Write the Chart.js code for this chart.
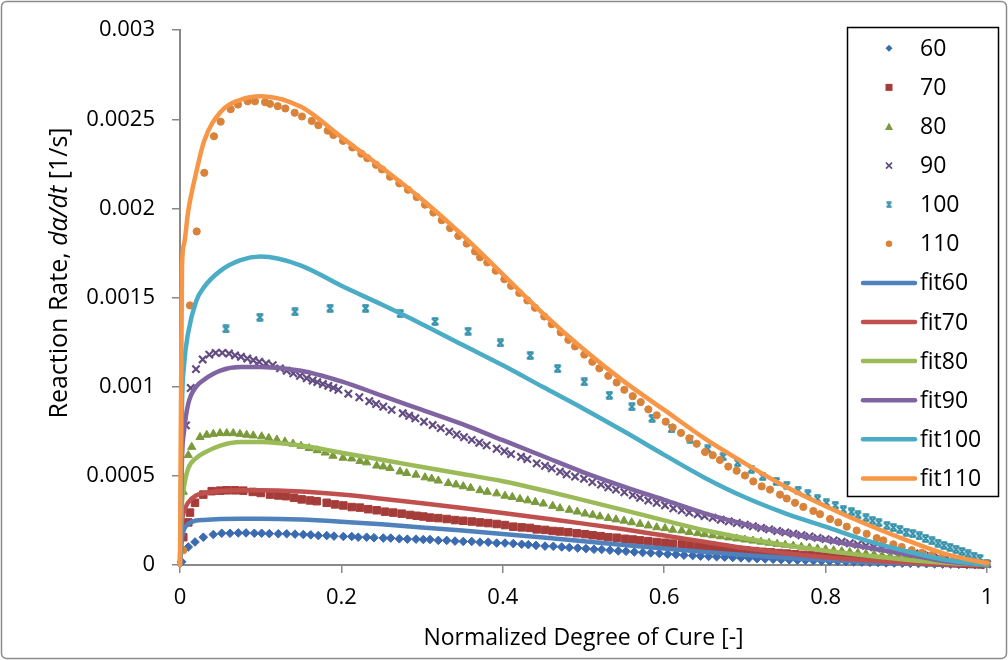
<!DOCTYPE html>
<html><head><meta charset="utf-8">
<script src="https://cdn.jsdelivr.net/npm/chart.js@4.4.1/dist/chart.umd.min.js"></script>
<style>html,body{margin:0;padding:0;background:#fff;}canvas{display:block;}</style>
</head><body>
<canvas id="c" width="1008" height="660"></canvas>
<script>
// ---------- data ----------
const xTicks = [0, 0.2, 0.4, 0.6, 0.8, 1];
const xTickLabels = ['0', '0.2', '0.4', '0.6', '0.8', '1'];
const yTicks = [0, 0.0005, 0.001, 0.0015, 0.002, 0.0025, 0.003];
const yTickLabels = ['0', '0.0005', '0.001', '0.0015', '0.002', '0.0025', '0.003'];
const seriesNames = ['60', '70', '80', '90', '100', '110'];
const fitNames = ['fit60', 'fit70', 'fit80', 'fit90', 'fit100', 'fit110'];

const exp60 = [[0.0021,0.000018],[0.0103,0.000101],[0.0186,0.000129],[0.0289,0.000156],[0.0413,0.000171],[0.0517,0.000178],[0.062,0.000178],[0.0722,0.00018],[0.0818,0.00018],[0.0921,0.000178],[0.1012,0.000178],[0.1107,0.000176],[0.1218,0.000175],[0.1322,0.000175],[0.1425,0.000173],[0.1528,0.000171],[0.162,0.000169],[0.1714,0.000165],[0.1818,0.000165],[0.1908,0.000162],[0.2024,0.00016],[0.2128,0.00016],[0.2209,0.000156],[0.2313,0.000156],[0.2404,0.000153],[0.2519,0.000151],[0.2611,0.000151],[0.2717,0.000147],[0.2817,0.000145],[0.2924,0.000145],[0.3015,0.000143],[0.3098,0.000143],[0.3201,0.000138],[0.3305,0.000138],[0.3408,0.000134],[0.351,0.000132],[0.3615,0.000132],[0.3717,0.000128],[0.382,0.000128],[0.3924,0.000123],[0.4027,0.000123],[0.413,0.00012],[0.4234,0.000116],[0.4316,0.000114],[0.4411,0.00011],[0.4523,0.000106],[0.4626,0.000105],[0.473,0.000101],[0.4824,0.000098],[0.4928,0.000095],[0.5031,0.000092],[0.513,0.000088],[0.5225,0.000087],[0.5328,0.000083],[0.5431,0.000079],[0.5527,0.000077],[0.563,0.000073],[0.5733,0.00007],[0.5833,0.000068],[0.5939,0.000065],[0.6043,0.000061],[0.6146,0.000059],[0.6245,0.000055],[0.6353,0.000053],[0.645,0.00005],[0.655,0.000048],[0.665,0.000046],[0.675,0.000044],[0.685,0.000042],[0.695,0.00004],[0.705,0.000038],[0.715,0.000036],[0.725,0.000034],[0.735,0.000032],[0.745,0.00003],[0.755,0.000029],[0.765,0.000027],[0.775,0.000026],[0.785,0.000024],[0.795,0.000023],[0.805,0.000021],[0.815,0.00002],[0.825,0.000019],[0.835,0.000017],[0.845,0.000016],[0.855,0.000015],[0.865,0.000014],[0.875,0.000012],[0.885,0.000011],[0.895,0.00001],[0.905,0.000009],[0.915,0.000008],[0.925,0.000007],[0.935,0.000006],[0.945,0.000005],[0.955,0.000004],[0.965,0.000003],[0.975,0.000002],[0.985,0.000002],[0.995,0.000001]];

const exp70 = [[0.0041,0.000156],[0.0103,0.000239],[0.0124,0.000294],[0.0186,0.000349],[0.0289,0.000395],[0.0393,0.000414],[0.0496,0.000417],[0.0579,0.000419],[0.0682,0.000419],[0.0784,0.000417],[0.0901,0.00041],[0.1,0.000404],[0.1115,0.000395],[0.1218,0.00039],[0.1314,0.000386],[0.1413,0.000377],[0.1508,0.000368],[0.1611,0.000362],[0.1694,0.000358],[0.1818,0.000349],[0.1921,0.00034],[0.2024,0.000334],[0.2128,0.000325],[0.223,0.000322],[0.2333,0.000313],[0.2437,0.000307],[0.254,0.000299],[0.2643,0.000294],[0.2747,0.000288],[0.285,0.000281],[0.2933,0.000276],[0.3015,0.000272],[0.3098,0.000266],[0.3201,0.000263],[0.3305,0.000258],[0.3408,0.000252],[0.351,0.000248],[0.3615,0.000244],[0.3717,0.000239],[0.382,0.000235],[0.3924,0.00023],[0.4027,0.000224],[0.413,0.000215],[0.4234,0.000211],[0.4337,0.000208],[0.442,0.0002],[0.4523,0.000197],[0.4618,0.000191],[0.4709,0.000188],[0.4812,0.000184],[0.4916,0.000178],[0.5019,0.000173],[0.5114,0.000167],[0.5213,0.000162],[0.5307,0.000156],[0.5411,0.000153],[0.5514,0.000147],[0.561,0.000143],[0.57,0.000138],[0.5803,0.000134],[0.5907,0.000129],[0.601,0.000125],[0.6105,0.00012],[0.6217,0.000116],[0.632,0.00011],[0.6423,0.000105],[0.652,0.000101],[0.662,0.000097],[0.672,0.000093],[0.682,0.000089],[0.692,0.000085],[0.702,0.000081],[0.712,0.000078],[0.722,0.000074],[0.732,0.000071],[0.742,0.000067],[0.752,0.000064],[0.762,0.00006],[0.772,0.000057],[0.782,0.000054],[0.792,0.000051],[0.802,0.000048],[0.812,0.000045],[0.822,0.000042],[0.832,0.00004],[0.842,0.000037],[0.852,0.000034],[0.862,0.000032],[0.872,0.000029],[0.882,0.000027],[0.892,0.000024],[0.902,0.000022],[0.912,0.00002],[0.922,0.000017],[0.932,0.000015],[0.942,0.000013],[0.952,0.000011],[0.962,0.000009],[0.972,0.000007],[0.982,0.000005],[0.992,0.000003]];

const exp80 = [[0.0041,0.00041],[0.0103,0.000616],[0.0145,0.000662],[0.0248,0.000717],[0.0331,0.00073],[0.0413,0.000735],[0.0496,0.000739],[0.0579,0.000739],[0.066,0.000739],[0.0743,0.000735],[0.0826,0.00073],[0.0908,0.000726],[0.1012,0.000721],[0.11,0.000712],[0.12,0.000703],[0.13,0.000692],[0.14,0.00068],[0.15,0.000668],[0.16,0.000655],[0.17,0.000643],[0.18,0.00063],[0.1896,0.000612],[0.202,0.000601],[0.2128,0.000597],[0.223,0.000583],[0.2313,0.000575],[0.2437,0.000557],[0.2519,0.000552],[0.2602,0.000543],[0.2726,0.000524],[0.2809,0.000515],[0.2924,0.000506],[0.3036,0.000491],[0.3119,0.000484],[0.3201,0.000473],[0.3325,0.000459],[0.342,0.000451],[0.351,0.000441],[0.3602,0.000432],[0.3717,0.000419],[0.3808,0.00041],[0.3924,0.000401],[0.4027,0.000388],[0.4118,0.000381],[0.4213,0.00037],[0.4309,0.000362],[0.4403,0.000353],[0.4502,0.000344],[0.4618,0.000331],[0.4709,0.000318],[0.4824,0.000309],[0.4923,0.000299],[0.5019,0.000288],[0.5114,0.000281],[0.5204,0.000272],[0.5307,0.000263],[0.5403,0.000255],[0.5502,0.000248],[0.5597,0.000239],[0.57,0.00023],[0.5803,0.000221],[0.5907,0.000211],[0.601,0.000206],[0.6105,0.000197],[0.6217,0.000193],[0.6311,0.000184],[0.6415,0.000178],[0.65,0.000172],[0.66,0.000166],[0.67,0.00016],[0.68,0.000154],[0.69,0.000148],[0.7,0.000142],[0.71,0.000136],[0.72,0.00013],[0.73,0.000124],[0.74,0.000118],[0.75,0.000113],[0.76,0.000108],[0.77,0.000102],[0.78,0.000097],[0.79,0.000092],[0.8,0.000087],[0.81,0.000082],[0.82,0.000077],[0.83,0.000072],[0.84,0.000068],[0.85,0.000063],[0.86,0.000059],[0.87,0.000054],[0.88,0.00005],[0.89,0.000046],[0.9,0.000042],[0.91,0.000038],[0.92,0.000034],[0.93,0.00003],[0.94,0.000026],[0.95,0.000022],[0.96,0.000018],[0.97,0.000014],[0.98,0.00001],[0.99,0.000006],[1,0.000003]];

const exp90 = [[0.0074,0.000783],[0.0133,0.000993],[0.0198,0.001099],[0.0281,0.001153],[0.0363,0.00118],[0.0442,0.00119],[0.0524,0.00119],[0.0607,0.001186],[0.0682,0.001176],[0.0756,0.001168],[0.0834,0.001158],[0.0908,0.001149],[0.0983,0.00114],[0.1066,0.001131],[0.1149,0.001121],[0.1239,0.001103],[0.1322,0.00109],[0.1404,0.001075],[0.1487,0.001061],[0.157,0.001048],[0.1644,0.001035],[0.1701,0.001026],[0.177,0.001015],[0.1838,0.001005],[0.19,0.000994],[0.1962,0.000983],[0.2086,0.000961],[0.2222,0.000941],[0.2346,0.000919],[0.243,0.000903],[0.2519,0.000888],[0.2623,0.00087],[0.276,0.000851],[0.284,0.000837],[0.2916,0.000823],[0.3023,0.000804],[0.3131,0.000785],[0.323,0.000768],[0.3337,0.000748],[0.3429,0.000732],[0.3519,0.000717],[0.3615,0.000702],[0.3709,0.000686],[0.38,0.000671],[0.3924,0.000652],[0.4019,0.000638],[0.4102,0.000622],[0.4226,0.000607],[0.4304,0.000594],[0.442,0.00057],[0.4523,0.000556],[0.4606,0.000542],[0.4709,0.000524],[0.4792,0.000509],[0.4895,0.000496],[0.5006,0.000484],[0.5109,0.000465],[0.5217,0.000451],[0.5307,0.000436],[0.5403,0.000423],[0.5506,0.000408],[0.561,0.000392],[0.57,0.000377],[0.5803,0.000362],[0.5907,0.000349],[0.601,0.000335],[0.6113,0.000318],[0.6217,0.000307],[0.6311,0.000294],[0.6415,0.000285],[0.65,0.000275],[0.66,0.000265],[0.67,0.000254],[0.68,0.000245],[0.69,0.000236],[0.7,0.000226],[0.71,0.000217],[0.72,0.000208],[0.73,0.0002],[0.74,0.000191],[0.75,0.000183],[0.76,0.000175],[0.77,0.000167],[0.78,0.00016],[0.79,0.000152],[0.8,0.000145],[0.81,0.000137],[0.82,0.00013],[0.83,0.000122],[0.84,0.000115],[0.85,0.000108],[0.86,0.0001],[0.87,0.000093],[0.88,0.000086],[0.89,0.000079],[0.9,0.000072],[0.91,0.000065],[0.92,0.000058],[0.93,0.000051],[0.94,0.000044],[0.95,0.000038],[0.96,0.000031],[0.97,0.000024],[0.98,0.000017],[0.99,0.00001],[1,0.000005]];

const exp100 = [[0.057,0.001324],[0.099,0.00139],[0.1425,0.00142],[0.186,0.00144],[0.23,0.00144],[0.273,0.00141],[0.316,0.001366],[0.357,0.001311],[0.397,0.001246],[0.434,0.001175],[0.468,0.001101],[0.501,0.001027],[0.532,0.000952],[0.56,0.000888],[0.585,0.000823],[0.609,0.000763],[0.632,0.000706],[0.654,0.000651],[0.673,0.000607],[0.691,0.000574],[0.708,0.000537],[0.722,0.000496],[0.739,0.000469],[0.752,0.000447],[0.766,0.000419],[0.778,0.000399],[0.79,0.000371],[0.801,0.000349],[0.812,0.000335],[0.822,0.00031],[0.832,0.000298],[0.84,0.000281],[0.85,0.000265],[0.858,0.000248],[0.866,0.000237],[0.876,0.000221],[0.884,0.00021],[0.892,0.000199],[0.9,0.000184],[0.908,0.000176],[0.9162,0.000163],[0.9239,0.000149],[0.9318,0.000136],[0.9393,0.000123],[0.9467,0.00011],[0.9542,0.000099],[0.9616,0.000088],[0.969,0.000076],[0.9765,0.000062],[0.9839,0.00005],[0.9913,0.000037],[0.9996,0.00001]];

const exp110 = [[0.0041,0.000083],[0.0124,0.001456],[0.0207,0.001871],[0.0301,0.0022],[0.0421,0.002405],[0.0504,0.002487],[0.0628,0.002557],[0.0719,0.002583],[0.0839,0.002601],[0.0929,0.002601],[0.1053,0.002596],[0.1115,0.002587],[0.1211,0.002574],[0.1305,0.002561],[0.1421,0.002537],[0.1512,0.002516],[0.1632,0.002491],[0.1714,0.002467],[0.183,0.002436],[0.19,0.002412],[0.202,0.002379],[0.2135,0.002342],[0.2247,0.002307],[0.2321,0.002282],[0.2429,0.002245],[0.2503,0.002219],[0.2602,0.002178],[0.2717,0.002141],[0.2825,0.002105],[0.2933,0.002064],[0.3036,0.002021],[0.3139,0.001977],[0.3243,0.001934],[0.3346,0.00189],[0.3449,0.001846],[0.3553,0.001803],[0.3656,0.001759],[0.3718,0.001726],[0.3808,0.001697],[0.3912,0.001651],[0.4019,0.001603],[0.4102,0.001566],[0.4204,0.001526],[0.4304,0.001484],[0.4399,0.001443],[0.4514,0.001394],[0.4606,0.001351],[0.4717,0.001305],[0.4812,0.001263],[0.4895,0.001226],[0.501,0.00118],[0.5109,0.00114],[0.5196,0.001103],[0.5307,0.001061],[0.5411,0.001024],[0.5506,0.000983],[0.561,0.000947],[0.5709,0.000914],[0.5803,0.000873],[0.5907,0.00084],[0.6019,0.000804],[0.6105,0.000772],[0.6208,0.000741],[0.6311,0.000711],[0.6403,0.00068],[0.6506,0.000634],[0.6601,0.000616],[0.6691,0.000589],[0.6794,0.000552],[0.6898,0.000529],[0.7001,0.000502],[0.7104,0.000469],[0.7208,0.000441],[0.7311,0.000423],[0.7435,0.000395],[0.7518,0.000373],[0.7621,0.000349],[0.7724,0.000326],[0.7848,0.000303],[0.7931,0.000285],[0.8055,0.000258],[0.8157,0.000239],[0.8262,0.000215],[0.8385,0.000193],[0.8509,0.000175],[0.8633,0.000151],[0.8715,0.000138],[0.8839,0.000116],[0.8943,0.000101],[0.9067,0.000083],[0.9191,0.000068],[0.9315,0.000055],[0.9439,0.000042],[0.9582,0.000028],[0.9727,0.000018],[0.9872,0.000009],[0.9996,0.000006]];

const fitX   = [0, 0.0025, 0.005, 0.01, 0.02, 0.03, 0.05, 0.075, 0.1, 0.15, 0.2, 0.25, 0.3, 0.35, 0.4, 0.45, 0.5, 0.55, 0.6, 0.65, 0.7, 0.75, 0.8, 0.85, 0.9, 0.95, 1];
const fit60  = [0, 0.00015, 0.0002, 0.00023, 0.00025, 0.000253, 0.000258, 0.00026, 0.00026, 0.000255, 0.000243, 0.000228, 0.000211, 0.000193, 0.000174, 0.000154, 0.000133, 0.000112, 0.000092, 0.000073, 0.000056, 0.000041, 0.000028, 0.000017, 0.000009, 0.000003, 0];
const fit70  = [0, 0.00024, 0.0003, 0.00035, 0.00039, 0.000403, 0.000415, 0.00042, 0.00042, 0.000412, 0.000395, 0.000372, 0.000347, 0.00032, 0.000292, 0.000262, 0.000232, 0.0002, 0.000165, 0.00013, 0.000095, 0.000066, 0.000043, 0.000026, 0.000013, 0.000004, 0];
const fit80  = [0, 0.00035, 0.00044, 0.00054, 0.0006, 0.00063, 0.00067, 0.00069, 0.00069, 0.00067, 0.00063, 0.00059, 0.00055, 0.00051, 0.00047, 0.000419, 0.000364, 0.000308, 0.00025, 0.000195, 0.00015, 0.000112, 0.00008, 0.000053, 0.00003, 0.000012, 0];
const fit90  = [0, 0.0006, 0.00075, 0.0009, 0.001, 0.00104, 0.00109, 0.00111, 0.00111, 0.00109, 0.00103, 0.00095, 0.00087, 0.00079, 0.0007, 0.00061, 0.00052, 0.00044, 0.000365, 0.00029, 0.000229, 0.00018, 0.00014, 0.0001, 0.00006, 0.00002, 0];
const fit100 = [0, 0.0009, 0.00112, 0.0013, 0.00148, 0.00156, 0.00165, 0.00171, 0.00173, 0.00168, 0.001566, 0.001461, 0.001351, 0.001235, 0.00112, 0.000998, 0.000877, 0.00075, 0.000618, 0.00049, 0.00038, 0.00029, 0.000215, 0.000138, 0.000077, 0.000028, 0];
const fit110 = [0, 0.00168, 0.0018, 0.00198, 0.0022, 0.00238, 0.00254, 0.00261, 0.00263, 0.00257, 0.0024, 0.00223, 0.00205, 0.00185, 0.00163, 0.00141, 0.00121, 0.00103, 0.00087, 0.00071, 0.00057, 0.00044, 0.00033, 0.00023, 0.00014, 0.00006, 0.00001];

// ---------- styling ----------
const markerColors = ['#3A6AB0', '#A63C39', '#7A9A3C', '#624C82', '#2F8EA7', '#D9823A'];
const lineColors   = ['#4F81BD', '#C0504D', '#9BBB59', '#8064A2', '#4BACC6', '#F79646'];
const FONT = '"Open Sans", "DejaVu Sans", sans-serif';

function makeStar(color, size, lw) {
  const c = document.createElement('canvas');
  c.width = size; c.height = size;
  const g = c.getContext('2d');
  g.strokeStyle = color; g.lineWidth = lw; g.lineCap = 'butt';
  const a = lw / 2 + 0.3, b = size - lw / 2 - 0.3;
  g.beginPath();
  g.moveTo(a, a); g.lineTo(b, b);
  g.moveTo(b, a); g.lineTo(a, b);
  g.moveTo(a, a); g.lineTo(b, a);
  g.moveTo(a, b); g.lineTo(b, b);
  g.stroke();
  return c;
}
const starBig = makeStar(markerColors[4], 9, 2);
const starSmall = makeStar(markerColors[4], 7, 1.5);

const pointStyles = ['rectRot', 'rect', 'triangle', 'crossRot', starBig, 'circle'];
const pointRadii  = [4.3, 5.3, 4.7, 5.2, 4.5, 3.6];
const expData = [exp60, exp70, exp80, exp90, exp100, exp110];
const fitData = [fit60, fit70, fit80, fit90, fit100, fit110];

const datasets = [];
expData.forEach((arr, i) => {
  datasets.push({
    label: seriesNames[i],
    data: arr.map(p => ({x: p[0], y: p[1]})),
    showLine: false,
    pointStyle: pointStyles[i],
    pointRadius: pointRadii[i],
    pointHoverRadius: pointRadii[i],
    pointBackgroundColor: markerColors[i],
    pointBorderColor: markerColors[i],
    pointBorderWidth: i === 3 ? 2.2 : 1,
    clip: false
  });
});
fitData.forEach((arr, i) => {
  datasets.push({
    label: fitNames[i],
    data: fitX.map((x, k) => ({x: x, y: arr[k]})),
    showLine: true,
    borderColor: lineColors[i],
    backgroundColor: lineColors[i],
    borderWidth: 4.5,
    borderCapStyle: 'round',
    borderJoinStyle: 'round',
    cubicInterpolationMode: 'monotone',
    pointRadius: 0,
    pointHoverRadius: 0,
    fill: false,
    clip: false
  });
});
datasets.forEach((d, i) => { d.order = datasets.length - i; });

function roundRect(ctx, x, y, w, h, r) {
  ctx.beginPath();
  ctx.moveTo(x + r, y);
  ctx.lineTo(x + w - r, y); ctx.arcTo(x + w, y, x + w, y + r, r);
  ctx.lineTo(x + w, y + h - r); ctx.arcTo(x + w, y + h, x + w - r, y + h, r);
  ctx.lineTo(x + r, y + h); ctx.arcTo(x, y + h, x, y + h - r, r);
  ctx.lineTo(x, y + r); ctx.arcTo(x, y, x + r, y, r);
  ctx.closePath();
}

function drawMarker(ctx, i, x, y) {
  const c = markerColors[i];
  ctx.save();
  ctx.fillStyle = c; ctx.strokeStyle = c;
  if (i === 0) {
    ctx.beginPath(); ctx.moveTo(x, y - 3.5); ctx.lineTo(x + 3.5, y); ctx.lineTo(x, y + 3.5); ctx.lineTo(x - 3.5, y); ctx.closePath(); ctx.fill();
  } else if (i === 1) {
    ctx.fillRect(x - 3.5, y - 3.5, 7, 7);
  } else if (i === 2) {
    ctx.beginPath(); ctx.moveTo(x, y - 4); ctx.lineTo(x + 4, y + 3.5); ctx.lineTo(x - 4, y + 3.5); ctx.closePath(); ctx.fill();
  } else if (i === 3) {
    ctx.lineWidth = 1.7; ctx.beginPath(); ctx.moveTo(x - 3, y - 3); ctx.lineTo(x + 3, y + 3); ctx.moveTo(x + 3, y - 3); ctx.lineTo(x - 3, y + 3); ctx.stroke();
  } else if (i === 4) {
    ctx.drawImage(starSmall, x - 3.5, y - 3.5);
  } else {
    ctx.beginPath(); ctx.arc(x, y, 3.3, 0, Math.PI * 2); ctx.fill();
  }
  ctx.restore();
}

const decor = {
  id: 'decor',
  beforeDraw(chart) {
    const ctx = chart.ctx;
    ctx.save();
    ctx.fillStyle = '#ffffff';
    ctx.fillRect(0, 0, chart.width, chart.height);
    ctx.strokeStyle = '#8C8C8C';
    ctx.lineWidth = 1.5;
    roundRect(ctx, 1.5, 1.5, chart.width - 3, chart.height - 3, 5);
    ctx.stroke();
    ctx.restore();
  },
  afterDraw(chart) {
    const ctx = chart.ctx;
    const area = chart.chartArea;
    ctx.save();
    ctx.fillStyle = '#000';
    ctx.font = '23px ' + FONT;
    ctx.textAlign = 'center';
    ctx.textBaseline = 'middle';
    ctx.fillText('Normalized Degree of Cure [-]', (area.left + area.right) / 2, 638);
    const parts = [['Reaction Rate, ', ''], ['d\u03B1/dt', 'italic '], [' [1/s]', '']];
    const ySize = '25px ';
    let total = 0;
    const widths = parts.map(p => { ctx.font = p[1] + ySize + FONT; const w = ctx.measureText(p[0]).width; total += w; return w; });
    ctx.translate(60, 273);
    ctx.rotate(-Math.PI / 2);
    ctx.textAlign = 'left';
    let x = -total / 2;
    parts.forEach((p, k) => { ctx.font = p[1] + ySize + FONT; ctx.fillText(p[0], x, 0); x += widths[k]; });
    ctx.restore();

    ctx.save();
    ctx.fillStyle = '#ffffff';
    ctx.fillRect(847.5, 27.5, 151, 469);
    ctx.strokeStyle = '#000';
    ctx.lineWidth = 1.5;
    ctx.strokeRect(847.5, 27.5, 151, 469);
    ctx.font = '23px ' + FONT;
    ctx.textAlign = 'left';
    ctx.textBaseline = 'middle';
    const names = seriesNames.concat(fitNames);
    names.forEach((name, r) => {
      const y = 48.3 + r * 39.1;
      if (r < 6) {
        drawMarker(ctx, r, 889, y);
      } else {
        ctx.strokeStyle = lineColors[r - 6];
        ctx.lineWidth = 4.5;
        ctx.lineCap = 'round';
        ctx.beginPath(); ctx.moveTo(863, y); ctx.lineTo(915, y); ctx.stroke();
      }
      ctx.fillStyle = '#000';
      ctx.fillText(name, 920, y + 1);
    });
    ctx.restore();
  }
};

const axisGray = '#898989';
new Chart(document.getElementById('c'), {
  type: 'scatter',
  data: { datasets: datasets },
  options: {
    responsive: false,
    animation: false,
    devicePixelRatio: 1,
    events: [],
    layout: { padding: { left: 0, right: 21, top: 21, bottom: 0 } },
    plugins: { legend: { display: false }, tooltip: { enabled: false } },
    scales: {
      x: {
        type: 'linear', min: 0, max: 1,
        afterFit(s) { s.height = 95; },
        afterBuildTicks(s) { s.ticks = xTicks.map(v => ({ value: v })); },
        ticks: { callback: (v, i) => xTickLabels[i], font: { family: FONT, size: 22 }, color: '#000', padding: 12, maxRotation: 0, autoSkip: false },
        grid: { display: true, drawOnChartArea: false, drawTicks: true, tickLength: 8, color: axisGray, lineWidth: 1.5 },
        border: { display: true, color: axisGray, width: 2 },
        title: { display: false }
      },
      y: {
        type: 'linear', min: 0, max: 0.003,
        afterFit(s) { s.width = 180; },
        afterBuildTicks(s) { s.ticks = yTicks.map(v => ({ value: v })); },
        ticks: { callback: (v, i) => yTickLabels[i], font: { family: FONT, size: 22 }, color: '#000', padding: 17, autoSkip: false },
        grid: { display: true, drawOnChartArea: false, drawTicks: true, tickLength: 8, color: axisGray, lineWidth: 1.5 },
        border: { display: true, color: axisGray, width: 2 },
        title: { display: false }
      }
    }
  },
  plugins: [decor]
});
</script>
</body></html>
